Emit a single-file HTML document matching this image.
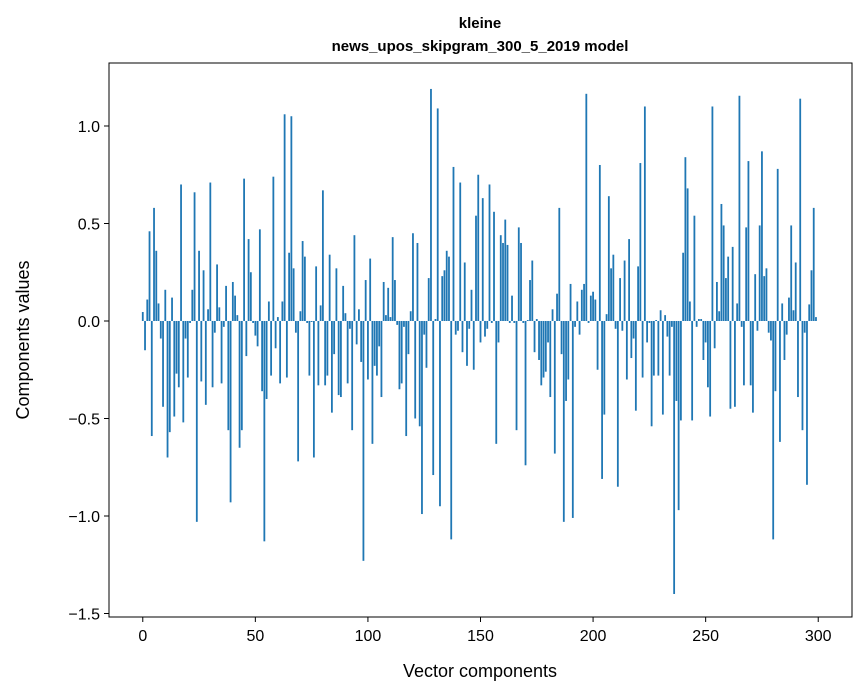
<!DOCTYPE html>
<html><head><meta charset="utf-8"><style>
body{margin:0;background:#fff;}
svg{display:block;font-family:"Liberation Sans","DejaVu Sans",sans-serif;}
</style></head><body>
<svg id="chart" width="867" height="696">
<text x="480" y="28" text-anchor="middle" font-size="15" font-weight="bold">kleine</text>
<text x="480" y="51" text-anchor="middle" font-size="15" font-weight="bold">news_upos_skipgram_300_5_2019 model</text>
<g id="bars"></g>
<g id="xaxis"></g>
<g id="yaxis"></g>
<rect x="109" y="63" width="743" height="554" fill="none" stroke="#000" stroke-width="1"/>
<text x="480" y="677" text-anchor="middle" font-size="18">Vector components</text>
<text transform="translate(29,340) rotate(-90)" text-anchor="middle" font-size="18">Components values</text>
</svg>
<script>
const values = [0.046,-0.15,0.11,0.46,-0.59,0.58,0.36,0.09,-0.09,-0.44,0.16,-0.70,-0.57,0.12,-0.49,-0.27,-0.34,0.70,-0.52,-0.09,-0.29,-0.01,0.16,0.66,-1.03,0.36,-0.31,0.26,-0.43,0.06,0.71,-0.34,-0.06,0.29,0.07,-0.32,-0.03,0.18,-0.56,-0.93,0.20,0.13,0.03,-0.65,-0.56,0.73,-0.18,0.42,0.25,-0.01,
-0.075,-0.13,0.47,-0.36,-1.13,-0.40,0.10,-0.28,0.74,-0.14,0.02,-0.32,0.10,1.06,-0.29,0.35,1.05,0.27,-0.06,-0.72,0.05,0.41,0.33,-0.01,-0.28,-0.005,-0.70,0.28,-0.33,0.08,0.67,-0.33,-0.28,0.34,-0.47,-0.17,0.27,-0.38,-0.39,0.18,0.04,-0.32,-0.04,-0.56,0.44,-0.12,0.06,-0.21,
-1.23,0.21,-0.30,0.32,-0.63,-0.23,-0.28,-0.13,-0.39,0.20,0.03,0.17,0.02,0.43,0.21,-0.02,-0.35,-0.32,-0.03,-0.59,-0.17,0.05,0.45,-0.50,0.40,-0.54,-0.99,-0.07,-0.24,0.22,1.19,-0.79,0.01,1.09,-0.95,0.23,0.26,0.36,0.33,-1.12,0.79,-0.07,-0.05,0.71,-0.16,0.30,-0.23,-0.04,0.16,-0.25,0.54,
0.75,-0.11,0.63,-0.08,-0.04,0.70,-0.01,0.56,-0.63,-0.11,0.44,0.40,0.52,0.39,-0.01,0.13,-0.01,-0.56,0.48,0.40,-0.01,-0.74,0.005,0.21,0.31,-0.16,0.01,-0.20,-0.33,-0.29,-0.26,-0.11,-0.39,0.06,-0.68,0.14,0.58,-0.17,-1.03,-0.41,-0.30,0.19,-1.01,-0.03,0.10,-0.07,0.16,0.19,1.165,-0.01,
0.13,0.15,0.11,-0.25,0.80,-0.81,-0.48,0.035,0.64,0.27,0.34,-0.04,-0.85,0.22,-0.05,0.31,-0.30,0.42,-0.19,-0.09,-0.46,0.28,0.81,-0.29,1.10,-0.11,-0.01,-0.54,-0.28,0.005,-0.28,0.055,-0.48,0.03,-0.08,-0.28,-0.03,-1.40,-0.41,-0.97,-0.51,0.35,0.84,0.68,0.10,-0.51,0.54,-0.03,0.01,
0.01,-0.20,-0.11,-0.34,-0.49,1.10,-0.14,0.20,0.05,0.60,0.49,0.22,0.33,-0.45,0.38,-0.44,0.09,1.155,-0.03,-0.33,0.48,0.82,-0.33,-0.47,0.24,-0.05,0.49,0.87,0.23,0.27,-0.06,-0.10,-1.12,-0.36,0.78,-0.62,0.09,-0.20,-0.07,0.12,0.49,0.055,0.30,-0.39,1.14,-0.56,-0.06,-0.84,0.085,0.26,0.58,0.02];
const xTicks = [0,50,100,150,200,250,300];
const yTicks = [-1.5,-1.0,-0.5,0.0,0.5,1.0];
const yTickLabels = ["\u22121.5","\u22121.0","\u22120.5","0.0","0.5","1.0"];

const NS="http://www.w3.org/2000/svg";
const L=109,R=852,T=63,B=617;
const xMin=-15,xMax=315,yMin=-1.518,yMax=1.323;
function xs(v){return L+(v-xMin)/(xMax-xMin)*(R-L);}
function ys(v){return B-(v-yMin)/(yMax-yMin)*(B-T);}
function mk(t,a){const e=document.createElementNS(NS,t);for(const k in a)e.setAttribute(k,a[k]);return e;}
const bars=document.getElementById('bars');
values.forEach((v,i)=>{
  const x0=xs(i-0.4),x1=xs(i+0.4),y0=ys(Math.max(v,0)),y1=ys(Math.min(v,0));
  const r=mk('rect',{x:x0,y:y0,width:x1-x0,height:Math.max(y1-y0,0.3),fill:'#1f77b4'});
  
  
  bars.appendChild(r);
});
const xa=document.getElementById('xaxis');
xTicks.forEach(t=>{
  const x=xs(t);
  const l=mk('line',{x1:x,x2:x,y1:B,y2:B+5,stroke:'#000','stroke-width':1});
  
  
  xa.appendChild(l);
  const tx=mk('text',{x:x,y:B+24,'text-anchor':'middle','font-size':16});
  tx.textContent=String(t);
  
  
  xa.appendChild(tx);
});
const ya=document.getElementById('yaxis');
yTicks.forEach((t,i)=>{
  const y=ys(t);
  const l=mk('line',{x1:L-5,x2:L,y1:y,y2:y,stroke:'#000','stroke-width':1});
  
  
  ya.appendChild(l);
  const tx=mk('text',{x:L-9,y:y+6,'text-anchor':'end','font-size':16});
  tx.textContent=yTickLabels[i];
  
  
  ya.appendChild(tx);
});
</script>
</body></html>
